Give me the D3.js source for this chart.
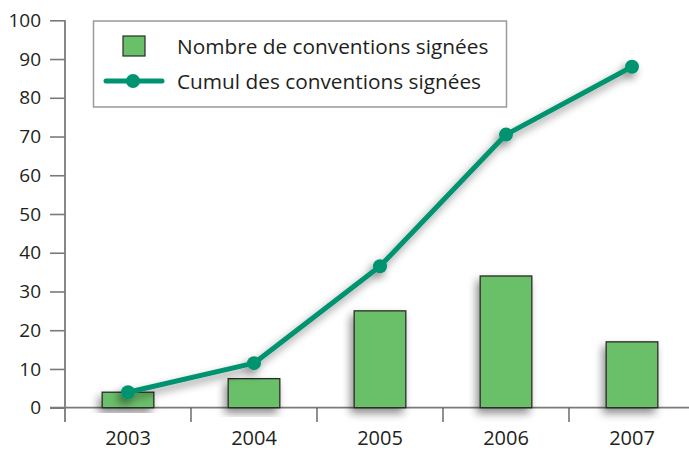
<!DOCTYPE html>
<html>
<head>
<meta charset="utf-8">
<script src="https://cdn.jsdelivr.net/npm/d3@7"></script>
<style>
  body { margin: 0; background: #fff; }
  text { font-family: "Open Sans", sans-serif; fill: #231f20; }
</style>
</head>
<body>
<div id="chart"></div>
<script>
// Data
var years = ["2003", "2004", "2005", "2006", "2007"];
var signed = [4, 7.5, 25, 34, 17];
var cumul = [4, 11.5, 36.5, 70.5, 88];
var yTicks = [0, 10, 20, 30, 40, 50, 60, 70, 80, 90, 100];
var legendLabels = ["Nombre de conventions signées", "Cumul des conventions signées"];

var svgWidth = 689;
var svgHeight = 451;

var svg = d3.select("#chart")
  .append("svg")
  .attr("width", svgWidth)
  .attr("height", svgHeight);

// drop shadow like the original
var defs = svg.append("defs");
var shadow = defs.append("filter")
  .attr("id", "shadow")
  .attr("x", "-30%").attr("y", "-30%")
  .attr("width", "160%").attr("height", "160%");
shadow.append("feDropShadow")
  .attr("dx", -3).attr("dy", 5)
  .attr("stdDeviation", 4)
  .attr("flood-color", "#000")
  .attr("flood-opacity", 0.45);

var x = d3.scaleBand()
  .domain(years)
  .range([65, 695])
  .padding(0);

var y = d3.scaleLinear()
  .domain([0, 100])
  .range([407.7, 20.3]);

var axisColor = "#7a7a7a";

// y axis
var yAxis = svg.append("g")
  .attr("transform", "translate(65,0)")
  .call(d3.axisLeft(y).tickValues(yTicks).tickSize(15).tickPadding(9));
yAxis.select(".domain").remove();
yAxis.selectAll(".tick line").attr("stroke", axisColor).attr("stroke-width", 1.6);
yAxis.selectAll(".tick text")
  .attr("font-size", 19)
  .attr("fill", "#231f20")
  .attr("font-family", "'Open Sans', sans-serif");

svg.append("line")
  .attr("x1", 65).attr("x2", 65)
  .attr("y1", y(100)).attr("y2", 422)
  .attr("stroke", axisColor).attr("stroke-width", 1.8);

// x axis baseline
svg.append("line")
  .attr("x1", 50).attr("x2", 689)
  .attr("y1", y(0)).attr("y2", y(0))
  .attr("stroke", axisColor).attr("stroke-width", 1.8);

// category separators
svg.selectAll(".sep")
  .data(years.slice(1))
  .enter()
  .append("line")
  .attr("class", "sep")
  .attr("x1", d => x(d)).attr("x2", d => x(d))
  .attr("y1", y(0)).attr("y2", 422)
  .attr("stroke", "#555").attr("stroke-width", 1.3);

// x labels
svg.selectAll(".xlab")
  .data(years)
  .enter()
  .append("text")
  .attr("class", "xlab")
  .attr("x", d => x(d) + x.bandwidth() / 2)
  .attr("y", 445)
  .attr("text-anchor", "middle")
  .attr("font-size", 20)
  .text(d => d);

// bars
var barW = x.bandwidth() * 0.41;
svg.selectAll(".bar")
  .data(signed)
  .enter()
  .append("rect")
  .attr("class", "bar")
  .attr("x", (d, i) => x(years[i]) + x.bandwidth() / 2 - barW / 2)
  .attr("y", d => y(d))
  .attr("width", barW)
  .attr("height", d => y(0) - y(d))
  .attr("fill", "#6abf69")
  .attr("stroke", "#2b2b2b")
  .attr("stroke-width", 1.3)
  .attr("filter", "url(#shadow)");

// cumulative line
var lineColor = "#00936f";
var line = d3.line()
  .x((d, i) => x(years[i]) + x.bandwidth() / 2)
  .y(d => y(d));

var lineGroup = svg.append("g").attr("filter", "url(#shadow)");
lineGroup.append("path")
  .datum(cumul)
  .attr("d", line)
  .attr("fill", "none")
  .attr("stroke", lineColor)
  .attr("stroke-width", 5)
  .attr("stroke-linejoin", "round");

lineGroup.selectAll(".dot")
  .data(cumul)
  .enter()
  .append("circle")
  .attr("class", "dot")
  .attr("cx", (d, i) => x(years[i]) + x.bandwidth() / 2)
  .attr("cy", d => y(d))
  .attr("r", 7)
  .attr("fill", lineColor);

// legend
var legend = svg.append("g");
legend.append("rect")
  .attr("x", 93.5).attr("y", 21)
  .attr("width", 413).attr("height", 86)
  .attr("fill", "#fff")
  .attr("stroke", "#9a9a9a")
  .attr("stroke-width", 1.5);

legend.append("rect")
  .attr("x", 123).attr("y", 36)
  .attr("width", 22).attr("height", 20)
  .attr("fill", "#6abf69")
  .attr("stroke", "#2b2b2b")
  .attr("stroke-width", 1.2);

legend.append("line")
  .attr("x1", 106).attr("x2", 162)
  .attr("y1", 81).attr("y2", 81)
  .attr("stroke", lineColor)
  .attr("stroke-width", 5)
  .attr("stroke-linecap", "round");

legend.append("circle")
  .attr("cx", 133).attr("cy", 81)
  .attr("r", 7)
  .attr("fill", lineColor);

legend.selectAll(".legtext")
  .data(legendLabels)
  .enter()
  .append("text")
  .attr("class", "legtext")
  .attr("x", 177)
  .attr("y", (d, i) => 54 + i * 35)
  .attr("font-size", 20.8)
  .text(d => d);
</script>
</body>
</html>
